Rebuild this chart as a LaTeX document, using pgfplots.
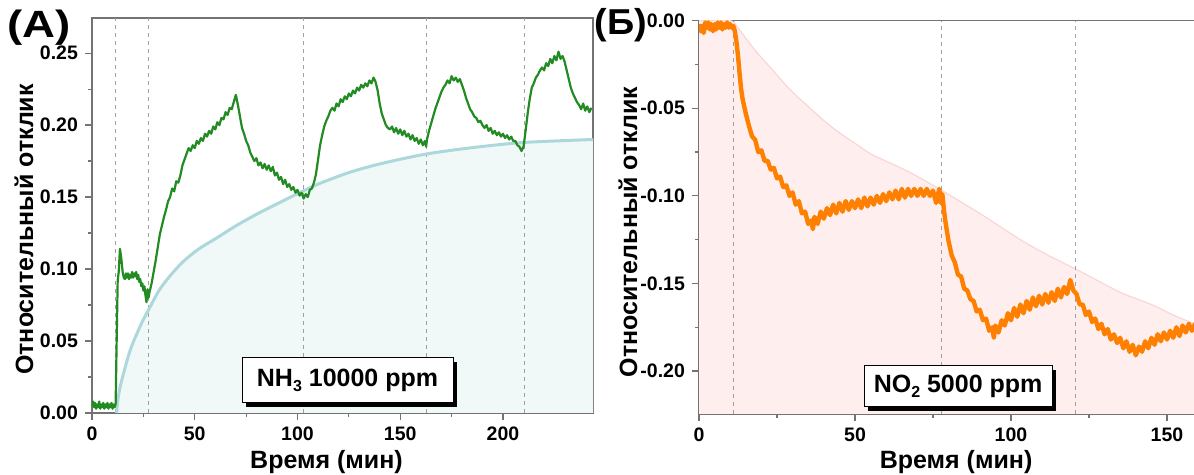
\documentclass[border=0pt]{standalone}
\usepackage{fontspec}
\setmainfont{Liberation Sans}
\usepackage{pgfplots}
\pgfplotsset{compat=1.18}
\usetikzlibrary{shadows}
\definecolor{gline}{RGB}{34,139,34}
\definecolor{tealc}{RGB}{172,216,220}
\definecolor{tealf}{RGB}{240,248,248}
\definecolor{oline}{RGB}{255,128,0}
\definecolor{pinkf}{RGB}{254,238,238}
\definecolor{pinkc}{RGB}{251,214,214}
\definecolor{axgray}{RGB}{115,115,115}
\definecolor{dgray}{RGB}{160,160,160}
\newcommand{\lblfont}{\bfseries\fontsize{12.5}{14}\selectfont}
\pgfplotsset{
  mystyle/.style={
    scale only axis,
    axis line style={draw=axgray, line width=0.8pt},
    tick style={draw=axgray, line width=0.6pt},
    major tick length=3.5pt, minor tick length=2pt,
    tick align=outside,
    xtick pos=left, ytick pos=left,
    minor tick num=1,
    tick label style={font=\bfseries\fontsize{9.75}{11}\selectfont},
    /pgf/number format/assume math mode=true,
    yticklabel style={/pgf/number format/fixed, /pgf/number format/fixed zerofill, /pgf/number format/precision=2},
    xticklabel style={/pgf/number format/fixed},
    clip=true,
  }
}
\begin{document}
\begin{tikzpicture}[x=1pt,y=1pt]
\path[use as bounding box] (0,0) rectangle (597,237.5);
% ---------------- Left panel ----------------
\begin{axis}[mystyle,
  at={(46pt,31pt)}, anchor=south west,
  width=250.5pt, height=197.5pt,
  xmin=0, xmax=243.8, ymin=0, ymax=0.2744,
  xtick={0,50,100,150,200},
  ytick={0,0.05,0.10,0.15,0.20,0.25},
  xlabel={Время (мин)}, ylabel={Относительный отклик},
  every axis x label/.style={at={(axis description cs:0.468,0)}, yshift=-24.5pt, anchor=center, font=\lblfont},
  every axis y label/.style={at={(axis description cs:-0.1357,0.4646)}, rotate=90, anchor=center, font=\lblfont},
]
\addplot[fill=tealf, draw=none, smooth] coordinates {
(12,0) (12.5,0.008) (13,0.013) (14,0.020) (16,0.031) (18,0.041) (20,0.049) (24,0.062) (28,0.073) (33,0.086) (39,0.097) (45,0.106) (52,0.114) (60,0.121) (70,0.130) (80,0.138) (91,0.146) (101,0.153) (110,0.159) (125,0.167) (140,0.173) (163,0.180) (189,0.185) (211,0.188) (243.8,0.190)
} \closedcycle;
\addplot[dgray, dash pattern=on 2pt off 2pt, line width=0.5pt] coordinates {(11.6,0) (11.6,0.2744)};
\addplot[dgray, dash pattern=on 2pt off 2pt, line width=0.5pt] coordinates {(27.7,0) (27.7,0.2744)};
\addplot[dgray, dash pattern=on 2pt off 2pt, line width=0.5pt] coordinates {(103,0) (103,0.2744)};
\addplot[dgray, dash pattern=on 2pt off 2pt, line width=0.5pt] coordinates {(162.6,0) (162.6,0.2744)};
\addplot[dgray, dash pattern=on 2pt off 2pt, line width=0.5pt] coordinates {(210.7,0) (210.7,0.2744)};
\addplot[tealc, line width=1.5pt, smooth] coordinates {
(12,0) (12.5,0.008) (13,0.013) (14,0.020) (16,0.031) (18,0.041) (20,0.049) (24,0.062) (28,0.073) (33,0.086) (39,0.097) (45,0.106) (52,0.114) (60,0.121) (70,0.130) (80,0.138) (91,0.146) (101,0.153) (110,0.159) (125,0.167) (140,0.173) (163,0.180) (189,0.185) (211,0.188) (243.8,0.190)
};
\addplot[gline, line width=1.1pt, line join=round] coordinates {
(0,0.005) (0.5,0.008) (1,0.004) (1.5,0.007) (2,0.003) (2.5,0.006) (3,0.004) (3.5,0.008) (4,0.003) (4.5,0.006) (5,0.004) (5.5,0.007) (6,0.003) (6.5,0.006) (7,0.004) (7.5,0.007) (8,0.003) (8.5,0.006) (9,0.004) (9.5,0.007) (10,0.003) (10.5,0.006) (11,0.004) (11.5,0.006)
(12,0.05) (12.5,0.092) (13,0.098) (13.6,0.114) (14.2,0.108) (15,0.097) (15.5,0.094) (16,0.093) (16.5,0.097) (17,0.094) (17.5,0.097) (18,0.093) (18.5,0.096) (19,0.094) (19.5,0.098) (20,0.094)
(20.5,0.097) (21,0.095) (21.5,0.098) (22,0.093) (22.5,0.096) (23,0.091) (23.5,0.093) (24,0.088) (24.5,0.090) (25,0.085) (25.5,0.088) (26,0.082) (26.5,0.077) (27,0.086) (27.5,0.080) (28,0.084) (29,0.090) (30,0.098)
(31,0.106) (32,0.115) (33,0.124) (34,0.130) (35,0.136) (36,0.141) (37,0.147) (38,0.150) (39,0.156) (40,0.154)
(41,0.161) (42,0.160) (43,0.165) (44,0.172) (45,0.176) (46,0.180) (47,0.184) (48,0.182) (49,0.186) (50,0.184)
(51,0.189) (52,0.187) (53,0.191) (54,0.189) (55,0.194) (56,0.192) (57,0.196) (58,0.194) (59,0.199) (60,0.197)
(61,0.202) (62,0.200) (63,0.205) (64,0.204) (65,0.209) (66,0.207) (67,0.212) (68,0.211) (69,0.216) (70,0.221)
(71,0.214) (72,0.206) (73,0.198) (74,0.194) (75,0.189) (76,0.186) (77,0.181) (78,0.178) (79,0.175) (80,0.177)
(81,0.172) (82,0.174) (83,0.170) (84,0.173) (85,0.169) (86,0.172) (87,0.168) (88,0.171) (89,0.165) (90,0.167)
(91,0.162) (92,0.164) (93,0.159) (94,0.162) (95,0.157) (96,0.159) (97,0.155) (98,0.157) (99,0.153) (100,0.155)
(101,0.151) (102,0.153) (103,0.149) (104,0.152) (105,0.150) (106,0.155) (107,0.156) (108,0.160) (109,0.166) (110,0.176)
(111,0.186) (112,0.193) (113,0.199) (114,0.203) (115,0.206) (116,0.210) (117,0.212) (118,0.210) (119,0.215) (120,0.213)
(121,0.218) (122,0.216) (123,0.220) (124,0.218) (125,0.222) (126,0.220) (127,0.224) (128,0.222) (129,0.226) (130,0.224)
(131,0.228) (132,0.226) (133,0.229) (134,0.227) (135,0.231) (136,0.229) (137,0.233) (138,0.230) (139,0.224) (140,0.215)
(141,0.208) (142,0.204) (143,0.200) (144,0.198) (145,0.197) (146,0.199) (147,0.195) (148,0.198) (149,0.194) (150,0.197)
(151,0.193) (152,0.196) (153,0.192) (154,0.194) (155,0.190) (156,0.193) (157,0.189) (158,0.191) (159,0.187) (160,0.190)
(161,0.186) (162,0.189) (162.6,0.185) (163,0.190) (164,0.196) (165,0.201) (166,0.206) (167,0.211) (168,0.215) (169,0.219) (170,0.223)
(171,0.226) (172,0.228) (173,0.231) (174,0.229) (175,0.234) (176,0.231) (177,0.233) (178,0.230) (179,0.232) (180,0.228)
(181,0.224) (182,0.219) (183,0.215) (184,0.211) (185,0.209) (186,0.206) (187,0.205) (188,0.202) (189,0.203) (190,0.200)
(191,0.198) (192,0.200) (193,0.196) (194,0.198) (195,0.194) (196,0.196) (197,0.193) (198,0.195) (199,0.192) (200,0.194)
(201,0.191) (202,0.193) (203,0.190) (204,0.192) (205,0.189) (206,0.189) (207,0.186) (208,0.185) (209,0.182) (210,0.185)
(211,0.196) (212,0.208) (213,0.218) (214,0.226) (215,0.229) (216,0.233) (217,0.235) (218,0.238) (219,0.240) (220,0.238)
(221,0.243) (222,0.241) (223,0.246) (224,0.243) (225,0.248) (226,0.245) (227,0.251) (228,0.246) (229,0.248) (230,0.244)
(231,0.238) (232,0.232) (233,0.226) (234,0.222) (235,0.219) (236,0.216) (237,0.214) (238,0.211) (239,0.215) (240,0.210)
(241,0.213) (242,0.209) (243,0.212)
};
\node[draw=black, line width=0.5pt, fill=white, inner sep=0pt, minimum width=105.5pt, minimum height=22.5pt,
  drop shadow={shadow xshift=2pt, shadow yshift=-2pt, opacity=1, fill=black},
  font=\lblfont] at (axis description cs:0.51,0.0823) {NH\raisebox{-0.35ex}{\fontsize{8}{9}\selectfont 3} 10000 ppm};
\end{axis}
% ---------------- Right panel ----------------
\begin{axis}[mystyle,
  at={(349.5pt,30.5pt)}, anchor=south west,
  width=249.6pt, height=196.65pt,
  xmin=0, xmax=160, ymin=-0.2245, ymax=0,
  xtick={0,50,100,150},
  ytick={-0.20,-0.15,-0.10,-0.05,0},
  xlabel={Время (мин)}, ylabel={Относительный отклик},
  every axis x label/.style={at={(axis description cs:0.515,0)}, yshift=-24pt, anchor=center, font=\lblfont},
  every axis y label/.style={at={(axis description cs:-0.1422,0.4627)}, rotate=90, anchor=center, font=\lblfont},
]
\addplot[fill=pinkf, draw=none] coordinates {
(0,-0.2245) (0,0) (10,0) (12,-0.003) (15,-0.010) (18.5,-0.018) (24,-0.029) (29,-0.039) (35,-0.049) (40,-0.057) (45,-0.064) (50,-0.070) (55,-0.076) (61,-0.081) (68,-0.087) (77,-0.096) (90,-0.110) (103,-0.125) (112,-0.134) (121,-0.142) (135,-0.155) (145,-0.162) (152,-0.168) (160,-0.174) (160,-0.2245)
} -- cycle;
\addplot[pinkc, line width=0.6pt, smooth] coordinates {
(0,0) (10,0) (12,-0.003) (15,-0.010) (18.5,-0.018) (24,-0.029) (29,-0.039) (35,-0.049) (40,-0.057) (45,-0.064) (50,-0.070) (55,-0.076) (61,-0.081) (68,-0.087) (77,-0.096) (90,-0.110) (103,-0.125) (112,-0.134) (121,-0.142) (135,-0.155) (145,-0.162) (152,-0.168) (160,-0.174)
};
\addplot[dgray, dash pattern=on 2pt off 2pt, line width=0.5pt] coordinates {(10.9,-0.2245) (10.9,0)};
\addplot[dgray, dash pattern=on 2pt off 2pt, line width=0.5pt] coordinates {(77.6,-0.2245) (77.6,0)};
\addplot[dgray, dash pattern=on 2pt off 2pt, line width=0.5pt] coordinates {(120.8,-0.2245) (120.8,0)};
\addplot[oline, line width=2.2pt, line join=round] coordinates {
(0,-0.002) (0.5,-0.006) (1,-0.003) (1.5,-0.007) (2,-0.001) (2.5,-0.004) (3,-0.001) (3.5,-0.005) (4,-0.002) (4.5,-0.006) (5,-0.002) (5.5,-0.005) (6,-0.001) (6.5,-0.004) (7,-0.001) (7.5,-0.005) (8,-0.002) (8.5,-0.004) (9,-0.001) (9.5,-0.004) (10,-0.002) (10.5,-0.004) (11,-0.003) (11.5,-0.006)
(12,-0.012) (12.5,-0.020) (13,-0.030) (13.5,-0.039) (14,-0.045) (15,-0.053) (16,-0.060) (17,-0.066) (18,-0.068) (19,-0.075) (20,-0.074)
(21,-0.080) (22,-0.080) (23,-0.085) (24,-0.084) (25,-0.090) (26,-0.089) (27,-0.095) (28,-0.094) (29,-0.100) (30,-0.098)
(31,-0.105) (32,-0.103) (33,-0.110) (34,-0.109) (35,-0.116) (36,-0.114) (36.5,-0.119) (37,-0.112) (38,-0.116) (39,-0.109) (40,-0.113)
(41,-0.107) (42,-0.111) (43,-0.105) (44,-0.110) (45,-0.104) (46,-0.109) (47,-0.103) (48,-0.108) (49,-0.103) (50,-0.107)
(51,-0.102) (52,-0.107) (53,-0.101) (54,-0.106) (55,-0.101) (56,-0.105) (57,-0.100) (58,-0.104) (59,-0.099) (60,-0.103)
(61,-0.098) (62,-0.102) (63,-0.097) (64,-0.102) (65,-0.096) (66,-0.101) (67,-0.096) (68,-0.100) (69,-0.096) (70,-0.100)
(71,-0.096) (72,-0.100) (73,-0.096) (74,-0.100) (75,-0.097) (76,-0.104) (77,-0.096) (77.5,-0.104) (78,-0.099) (78.5,-0.108) (79,-0.115) (80,-0.126)
(81,-0.134) (82,-0.138) (83,-0.145) (84,-0.146) (85,-0.153) (86,-0.154) (87,-0.159) (88,-0.160) (89,-0.166) (90,-0.165)
(91,-0.171) (92,-0.170) (93,-0.177) (94,-0.175) (94.5,-0.181) (95,-0.174) (96,-0.178) (97,-0.171) (98,-0.174) (99,-0.167) (100,-0.171)
(101,-0.164) (102,-0.169) (103,-0.162) (104,-0.167) (105,-0.160) (106,-0.165) (107,-0.158) (108,-0.163) (109,-0.157) (110,-0.162)
(111,-0.156) (112,-0.161) (113,-0.155) (114,-0.160) (115,-0.153) (116,-0.158) (117,-0.152) (118,-0.156) (119,-0.148) (120,-0.154)
(121,-0.156) (122,-0.162) (123,-0.162) (124,-0.168) (125,-0.166) (126,-0.172) (127,-0.170) (128,-0.176) (129,-0.173) (130,-0.179)
(131,-0.176) (132,-0.182) (133,-0.179) (134,-0.184) (135,-0.181) (136,-0.187) (137,-0.183) (138,-0.189) (139,-0.185) (140,-0.191)
(141,-0.186) (142,-0.189) (143,-0.183) (144,-0.187) (145,-0.181) (146,-0.185) (147,-0.179) (148,-0.183) (149,-0.178) (150,-0.182)
(151,-0.177) (152,-0.181) (153,-0.175) (154,-0.180) (155,-0.174) (156,-0.178) (157,-0.173) (158,-0.177) (159,-0.173) (160,-0.176)
};
\node[draw=black, line width=0.5pt, fill=white, inner sep=0pt, minimum width=94pt, minimum height=20.5pt,
  drop shadow={shadow xshift=2pt, shadow yshift=-2pt, opacity=1, fill=black},
  font=\lblfont] at (axis description cs:0.519,0.070) {NO\raisebox{-0.35ex}{\fontsize{8}{9}\selectfont 2} 5000 ppm};
\end{axis}
\node[font=\bfseries\fontsize{19}{21}\selectfont, xscale=1.2] at (19.5,223.5) {(A)};
\node[font=\bfseries\fontsize{18}{20}\selectfont, xscale=1.05] at (310.5,225) {(Б)};
\end{tikzpicture}
\end{document}
